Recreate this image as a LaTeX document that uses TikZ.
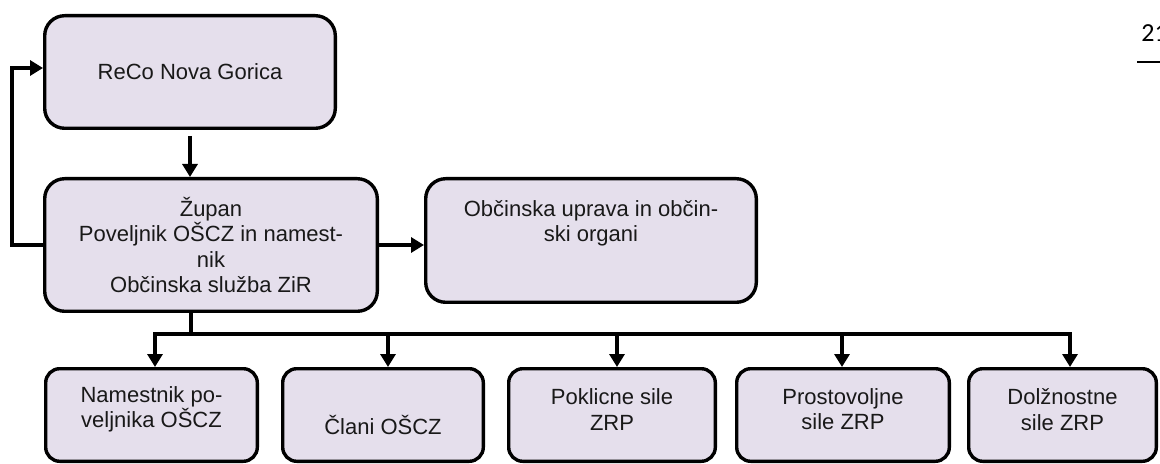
\documentclass[tikz,border=0pt]{standalone}
\usepackage{fontspec}
\setmainfont{Liberation Sans}
\newfontfamily\hdrfont{Carlito}
\usetikzlibrary{arrows.meta}
\definecolor{boxfill}{HTML}{E5DFEC}
\begin{document}
\begin{tikzpicture}[x=0.5pt,y=-0.5pt,
  box/.style={draw=black, line width=1.7pt, fill=boxfill, rounded corners=10pt, inner sep=0pt,
    font=\fontsize{11}{12.6}\selectfont, align=center, text=black!90},
  lowbox/.style={box, rounded corners=7pt, minimum height=46.3pt},
  txt/.style={font=\fontsize{11}{12.6}\selectfont, align=center, inner sep=0pt, text=black!90},
  conn/.style={line width=1.6pt},
  arr/.style={conn, -{Triangle[length=6.5pt,width=7.5pt]}},
]
\useasboundingbox (0,0) rectangle (1160,464);
\clip (0,0) rectangle (1160,464);

% header
\node[font=\hdrfont\fontsize{13}{15}\selectfont, anchor=west, inner sep=0pt] (pg) at (1141,33) {21};
\coordinate (hl1) at (1137,62);
\coordinate (hl2) at (1162,62);
\draw[line width=1pt] (hl1) -- (hl2);

% main boxes
\node[box, minimum width=145.3pt, minimum height=56.3pt] (reco) at (190,72) {ReCo Nova Gorica};
\node[box, minimum width=166.3pt, minimum height=66.3pt] (zupan) at (211,245)
  {Župan\\Poveljnik OŠCZ in namest-\\nik\\Občinska služba ZiR};
\node[box, minimum width=165.3pt, minimum height=61.8pt] (obc) at (591,240.5) {};
\node[txt] (obct) at (591,223.5) {Občinska uprava in občin-\\ski organi};

% lower boxes
\node[lowbox, minimum width=105.8pt] (b1) at (151.5,415) {};
\node[lowbox, minimum width=100.3pt] (b2) at (383,415) {};
\node[lowbox, minimum width=103.3pt] (b3) at (612,415) {};
\node[lowbox, minimum width=106.3pt] (b4) at (843,415) {};
\node[lowbox, minimum width=93.8pt] (b5) at (1062.5,415) {};
\node[txt] (b1t) at (151.5,409.5) {Namestnik po-\\veljnika OŠCZ};
\node[txt] (b2t) at (383,425) {Člani OŠCZ};
\node[txt] (b3t) at (612,409.5) {Poklicne sile\\ZRP};
\node[txt] (b4t) at (843,409.5) {Prostovoljne\\sile ZRP};
\node[txt] (b5t) at (1062.5,409.5) {Dolžnostne\\sile ZRP};

% connectors
\coordinate (recoout) at (190,136);
\draw[arr] (recoout) -- (recoout |- zupan.north);
\draw[arr] (zupan.west) -- ++(-31,0) |- ([yshift=2pt]reco.west);
\draw[arr] (zupan.east) -- (zupan.east -| obc.west);

\coordinate (stem) at (191,334);
\coordinate (a1) at (155,334);
\coordinate (a2) at (388,334);
\coordinate (a3) at (617,334);
\coordinate (a4) at (842,334);
\coordinate (a5) at (1070,334);
\draw[conn] (stem |- zupan.south) -- (stem);
\draw[arr] (stem) -- (a1) -- (a1 |- b1.north);
\draw[arr] (stem) -- (a5) -- (a5 |- b5.north);
\draw[arr] (a2) -- (a2 |- b2.north);
\draw[arr] (a3) -- (a3 |- b3.north);
\draw[arr] (a4) -- (a4 |- b4.north);
\end{tikzpicture}
\end{document}
